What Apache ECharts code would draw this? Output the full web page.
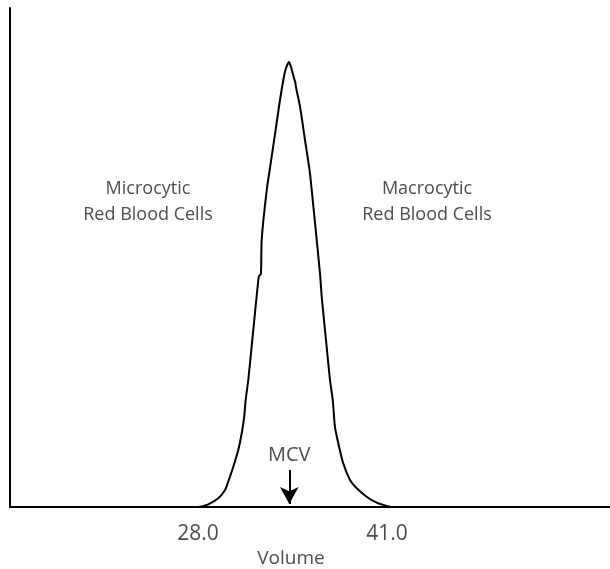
<!DOCTYPE html>
<html>
<head>
<meta charset="utf-8">
<script src="https://cdn.jsdelivr.net/npm/echarts@6/dist/echarts.min.js"></script>
<style>html,body{margin:0;padding:0;background:#fff}#c{width:610px;height:569px}</style>
</head>
<body>
<div id="c"></div>
<script>
// Volume values (x) and relative frequency (y)
const volume = [27.45,27.91,28.14,28.71,29.40,29.86,30.08,30.20,30.43,30.77,31.01,31.18,31.28,31.46,31.69,31.92,32.15,32.20,32.33,32.38,32.73,33.07,33.41,33.64,33.87,33.98,34.14,34.26,34.40,34.53,34.64,34.69,34.74,35.02,35.36,35.70,36.05,36.39,36.51,36.62,36.85,37.08,37.27,37.42,37.65,37.99,38.46,38.92,39.60,40.29,40.98,41.32,41.55];
const frequency = [0,0,0.06,0.54,1.74,3.41,5.07,6.07,8.08,11.42,14.77,18.10,21.44,25.45,32.12,38.88,45.49,46.29,46.69,53.5,63.5,70.2,76.95,81.56,85.57,87.17,88.58,89.18,88.18,86.77,85.57,85.17,84.17,80.22,73.55,66.93,56.91,46.89,42.14,38.88,32.12,25.45,21.44,16.09,12.77,8.76,5.41,3.75,2.06,0.86,0.2,0,0];
const tickValues = [28, 41];
const mcv = 34.28;
const mcvArrow = [7.4, 0.6];
const leftLabel = ['Microcytic', 'Red Blood Cells'];
const rightLabel = ['Macrocytic', 'Red Blood Cells'];
const xName = 'Volume';

const font = '"Open Sans", Lato, sans-serif';
const gray = '#4d4d4d';
const chart = echarts.init(document.getElementById('c'));
chart.setOption({
  animation: false,
  grid: {left: 10, right: 0, top: 8, bottom: 62},
  xAxis: {
    type: 'value', min: 15.07, max: 56.34,
    axisLine: {show: true, lineStyle: {color: '#000', width: 2}},
    axisTick: {show: false},
    splitLine: {show: false},
    axisLabel: {
      customValues: tickValues, margin: 17,
      formatter: v => v.toFixed(1),
      fontFamily: font, fontSize: 21, color: gray
    }
  },
  yAxis: {
    type: 'value', min: 0, max: 100,
    axisLine: {show: true, lineStyle: {color: '#000', width: 2}},
    axisTick: {show: false}, axisLabel: {show: false}, splitLine: {show: false}
  },
  series: [{
    type: 'line',
    data: volume.map((v, i) => [v, frequency[i]]),
    showSymbol: false,
    smooth: 0.2,
    lineStyle: {color: '#000', width: 2},
    markLine: {
      silent: true,
      symbol: ['none', 'arrow'],
      symbolSize: [14, 17],
      lineStyle: {color: '#000', width: 2, type: 'solid'},
      label: {show: true, position: 'start', formatter: 'MCV', distance: 5,
        fontFamily: font, fontSize: 20, color: gray},
      data: [[{coord: [mcv, mcvArrow[0]]}, {coord: [mcv, mcvArrow[1]]}]]
    }
  }],
  graphic: [
    {type: 'text', x: 148, y: 202, style: {text: leftLabel.join('\n'), align: 'center', verticalAlign: 'middle', fontFamily: font, fontSize: 18, lineHeight: 26, fill: gray}},
    {type: 'text', x: 427, y: 202, style: {text: rightLabel.join('\n'), align: 'center', verticalAlign: 'middle', fontFamily: font, fontSize: 18, lineHeight: 26, fill: gray}},
    {type: 'text', x: 291, y: 559, style: {text: xName, align: 'center', verticalAlign: 'middle', fontFamily: font, fontSize: 19, fill: gray}}
  ]
});
</script>
</body>
</html>
